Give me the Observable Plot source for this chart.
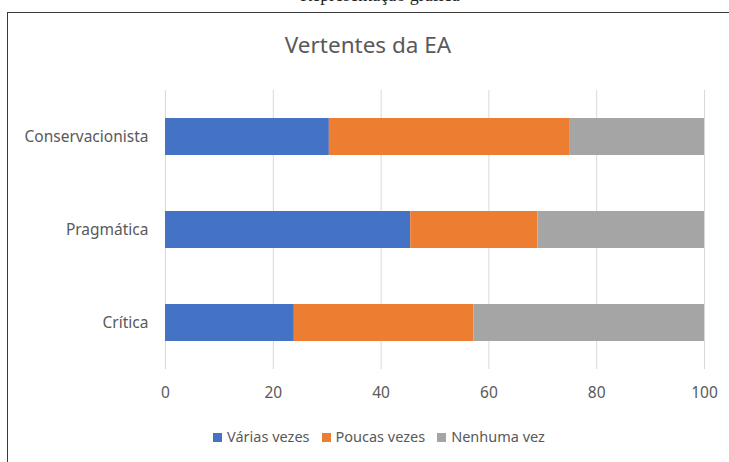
<!DOCTYPE html>
<html>
<head>
<meta charset="utf-8">
<script src="https://cdn.jsdelivr.net/npm/d3@7"></script>
<script src="https://cdn.jsdelivr.net/npm/@observablehq/plot@0.6"></script>
<style>
  html, body { margin: 0; padding: 0; background: #fff; }
  #wrap { position: relative; width: 729px; height: 462px; overflow: hidden; font-family: "Noto Sans", sans-serif; }
  #cut { position: absolute; top: -15px; left: 0; width: 760px; text-align: center; font-family: "Liberation Serif", serif; font-size: 18px; color: #222; }
  #frame { position: absolute; left: 7px; top: 12px; width: 740px; height: 470px; border-left: 1.5px solid #3a3a3a; border-top: 1.5px solid #3a3a3a; }
  #title { position: absolute; top: 29px; left: 0; width: 736px; text-align: center; font-size: 22.5px; color: #595959; }
  #chart { position: absolute; left: 0; top: 0; }
  #legend { position: absolute; top: 426px; left: 0; width: 758px; text-align: center; font-size: 14.5px; color: #595959; }
  #legend span.item { margin: 0 6px; white-space: nowrap; }
  #legend span.sw { display: inline-block; width: 9px; height: 9px; margin-right: 5px; vertical-align: 0px; }
</style>
</head>
<body>
<div id="wrap">
  <div id="cut">Representação gráfica</div>
  <div id="frame"></div>
  <div id="chart"></div>
  <div id="title">Vertentes da EA</div>
  <div id="legend"></div>
</div>
<script>
const categories = ["Conservacionista", "Pragmática", "Crítica"];
const series = ["Várias vezes", "Poucas vezes", "Nenhuma vez"];
const colors = ["#4472C4", "#ED7D31", "#A5A5A5"];
const variasVezes = [30.4, 45.5, 23.9];
const poucasVezes = [44.7, 23.6, 33.3];
const nenhumaVez = [24.9, 30.9, 42.8];
const xTicks = [0, 20, 40, 60, 80, 100];

const seriesValues = [variasVezes, poucasVezes, nenhumaVez];
const data = [];
categories.forEach((c, i) => {
  series.forEach((s, j) => data.push({ category: c, series: s, value: seriesValues[j][i] }));
});

const chart = Plot.plot({
  width: 729,
  height: 462,
  marginLeft: 165,
  marginRight: 25,
  marginTop: 90,
  marginBottom: 93,
  style: { fontFamily: "'Noto Sans', sans-serif", fontSize: "15.5px", color: "#595959", background: "transparent" },
  x: { domain: [0, 100], ticks: xTicks, label: null },
  y: { domain: categories, paddingInner: 0.6, paddingOuter: 0.3, label: null },
  color: { domain: series, range: colors },
  marks: [
    Plot.gridX(xTicks, { stroke: "#d9d9d9", strokeOpacity: 1 }),
    Plot.barX(data, Plot.stackX({ x: "value", y: "category", fill: "series", order: series })),
    Plot.axisX(xTicks, { tickSize: 0, tickPadding: 17, fontSize: 15.5, fill: "#595959" }),
    Plot.axisY({ tickSize: 0, tickPadding: 17, fontSize: 15.5, fill: "#595959" })
  ]
});
document.getElementById("chart").appendChild(chart);

const legend = document.getElementById("legend");
series.forEach((s, j) => {
  const item = document.createElement("span");
  item.className = "item";
  const sw = document.createElement("span");
  sw.className = "sw";
  sw.style.background = colors[j];
  item.appendChild(sw);
  item.appendChild(document.createTextNode(s));
  legend.appendChild(item);
});
</script>
</body>
</html>
